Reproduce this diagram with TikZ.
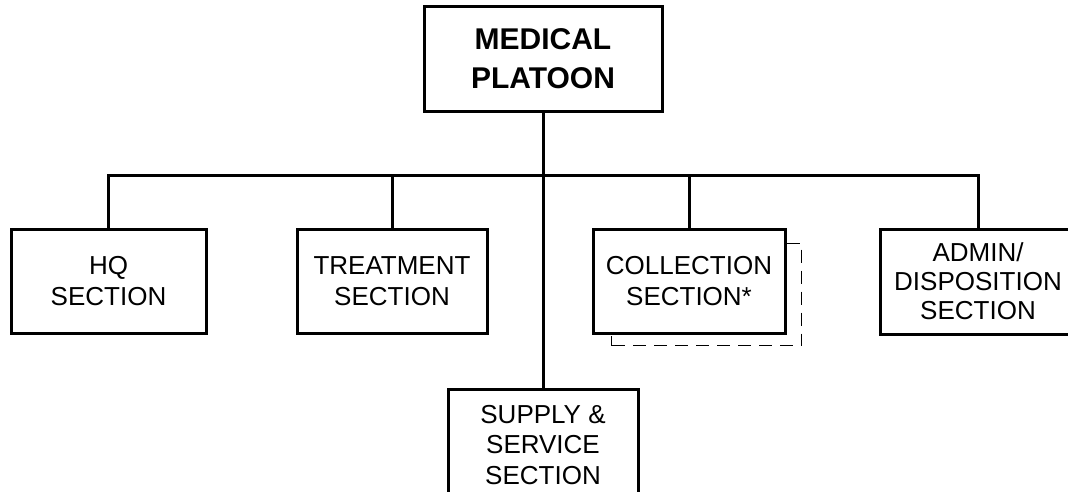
\documentclass[tikz,border=0pt]{standalone}
\usepackage{fontspec}
\setmainfont{Liberation Sans}
\begin{document}
\begin{tikzpicture}[x=1pt,y=-1pt,
  box/.style={draw, line width=3pt, align=center, inner sep=0pt, font=\fontsize{26}{31}\selectfont},
  conn/.style={line width=3pt},
  dashbox/.style={line width=1.6pt, dash pattern=on 13pt off 8pt}]
\useasboundingbox (0,0) rectangle (1068,491);
\clip (0,0) rectangle (1068,491);
\node[box, minimum width=238pt, minimum height=105pt, font=\bfseries\fontsize{30}{39}\selectfont] (top) at (543,58.5) {MEDICAL\\PLATOON};
\node[box, minimum width=195pt, minimum height=104pt] (hq) at (108.5,281) {HQ\\SECTION};
\node[box, minimum width=190pt, minimum height=104pt] (treat) at (392,281) {TREATMENT\\SECTION};
\node[box, minimum width=192pt, minimum height=104pt] (coll) at (689,281) {COLLECTION\\SECTION*};
\node[box, minimum width=196pt, minimum height=105pt, font=\fontsize{26}{29}\selectfont] (admin) at (978,281.5) {ADMIN/\\DISPOSITION\\SECTION};
\node[box, minimum width=190pt, minimum height=112pt, font=\fontsize{26}{30.5}\selectfont] (supply) at (543,445) {SUPPLY \&\\SERVICE\\SECTION};
\coordinate (barL) at (108.5,175);
\draw[conn] (hq.north) -- (hq.north |- barL) -- (admin.north |- barL) -- (admin.north);
\draw[conn] (treat.north) -- (treat.north |- barL);
\draw[conn] (coll.north) -- (coll.north |- barL);
\draw[conn] (top.south) -- (supply.north);
\draw[dashbox] ([yshift=-16pt]coll.north east) -- ++(15,0) -- ++(0,102) -- ++(-190,0) coordinate (dl);
\draw[line width=1.6pt] (dl) -- ++(0,-10);
\end{tikzpicture}
\end{document}
